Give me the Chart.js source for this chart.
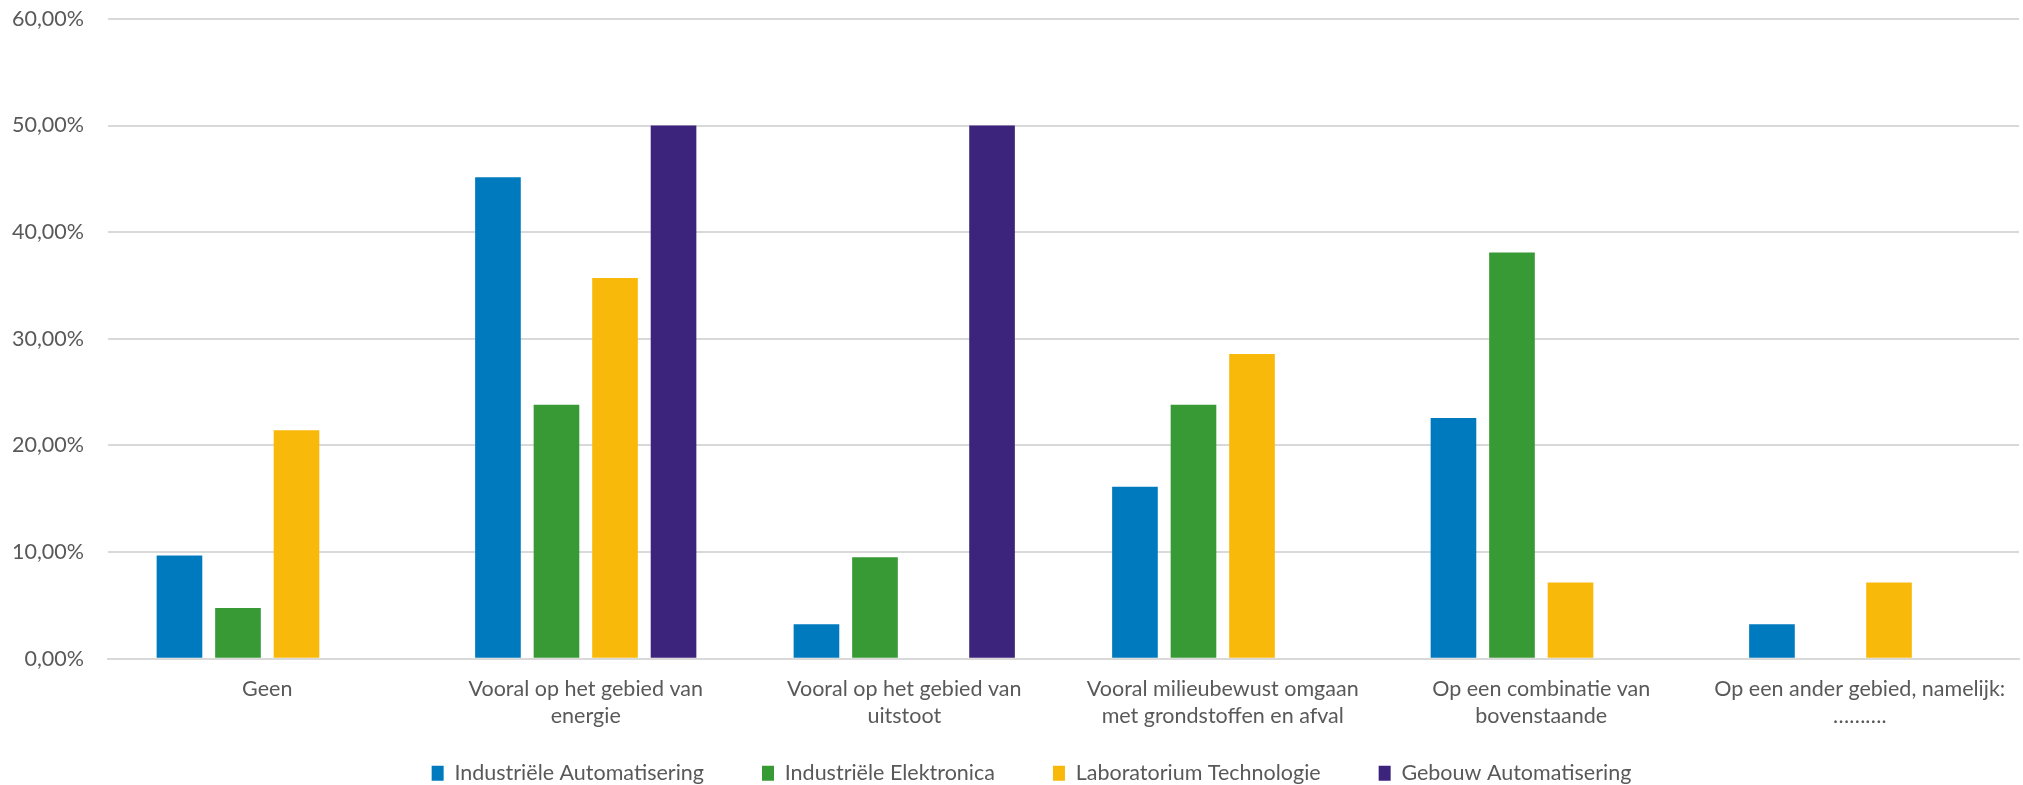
<!DOCTYPE html>
<html>
<head>
<meta charset="utf-8">
<script src="https://cdn.jsdelivr.net/npm/chart.js@4.4.0/dist/chart.umd.min.js"></script>
<style>
html,body{margin:0;padding:0;background:#fff;overflow:hidden;}
#wrap{width:2023px;height:785px;position:relative;}
canvas{display:block;}
</style>
</head>
<body>
<div id="wrap"><canvas id="c" width="2023" height="785"></canvas></div>
<script>
const categories = [
  "Geen",
  ["Vooral op het gebied van", "energie"],
  ["Vooral op het gebied van", "uitstoot"],
  ["Vooral milieubewust omgaan", "met grondstoffen en afval"],
  ["Op een combinatie van", "bovenstaande"],
  ["Op een ander gebied, namelijk:", "………."]
];
const seriesNames = ["Industriële Automatisering", "Industriële Elektronica", "Laboratorium Technologie", "Gebouw Automatisering"];
const industrieleAutomatisering = [9.68, 45.16, 3.23, 16.13, 22.58, 3.23];
const industrieleElektronica   = [4.76, 23.81, 9.52, 23.81, 38.10, 0];
const laboratoriumTechnologie  = [21.43, 35.71, 0, 28.57, 7.14, 7.14];
const gebouwAutomatisering     = [0, 50.00, 50.00, 0, 0, 0];
const yTicks = [0, 10, 20, 30, 40, 50, 60];

const colors = ["#007ABE", "#379A34", "#F9B90A", "#3C237B"];
const seriesValues = [industrieleAutomatisering, industrieleElektronica, laboratoriumTechnologie, gebouwAutomatisering];
const FONT = "Lato, 'Open Sans', sans-serif";
const FS = 21.5;

const legendShift = {
  id: 'legendShift',
  afterInit(chart) {
    const lg = chart.legend;
    if (!lg || lg._wrapped) return;
    const origFit = lg.fit;
    lg.fit = function () { origFit.call(this); this.height -= 43; };
    lg.draw = function () {
      if (!this.options.display) return;
      const ctx = this.ctx;
      ctx.save();
      ctx.translate(19, -34);
      this._draw();
      ctx.restore();
    };
    lg._wrapped = true;
  }
};

new Chart(document.getElementById('c'), {
  type: 'bar',
  data: {
    labels: categories,
    datasets: seriesValues.map((vals, i) => ({
      label: seriesNames[i],
      data: vals,
      backgroundColor: colors[i],
      borderWidth: 0,
      categoryPercentage: 0.735,
      barPercentage: 0.78
    }))
  },
  options: {
    responsive: false,
    animation: false,
    layout: { padding: { top: 0, right: 4, left: 6, bottom: 0 } },
    plugins: {
      legend: {
        position: 'bottom',
        labels: {
          font: { family: FONT, size: FS },
          color: '#595959',
          boxWidth: 12,
          boxHeight: 15,
          padding: 58
        }
      },
      tooltip: { enabled: false }
    },
    scales: {
      x: {
        grid: { display: false },
        border: { display: true, color: '#D9D9D9', width: 2 },
        ticks: {
          font: { family: FONT, size: FS, lineHeight: 1.25 },
          color: '#595959',
          maxRotation: 0,
          autoSkip: false,
          padding: 9
        }
      },
      y: {
        min: 0,
        max: 60,
        afterBuildTicks: (axis) => { axis.ticks = yTicks.map(v => ({ value: v })); },
        grid: { color: '#D9D9D9', lineWidth: 2, drawTicks: true, tickLength: 18, tickColor: 'rgba(0,0,0,0)' },
        border: { display: false },
        ticks: {
          font: { family: FONT, size: FS },
          color: '#595959',
          padding: 6,
          callback: (v) => v.toFixed(2).replace('.', ',') + '%'
        }
      }
    }
  },
  plugins: [legendShift]
});
</script>
</body>
</html>
